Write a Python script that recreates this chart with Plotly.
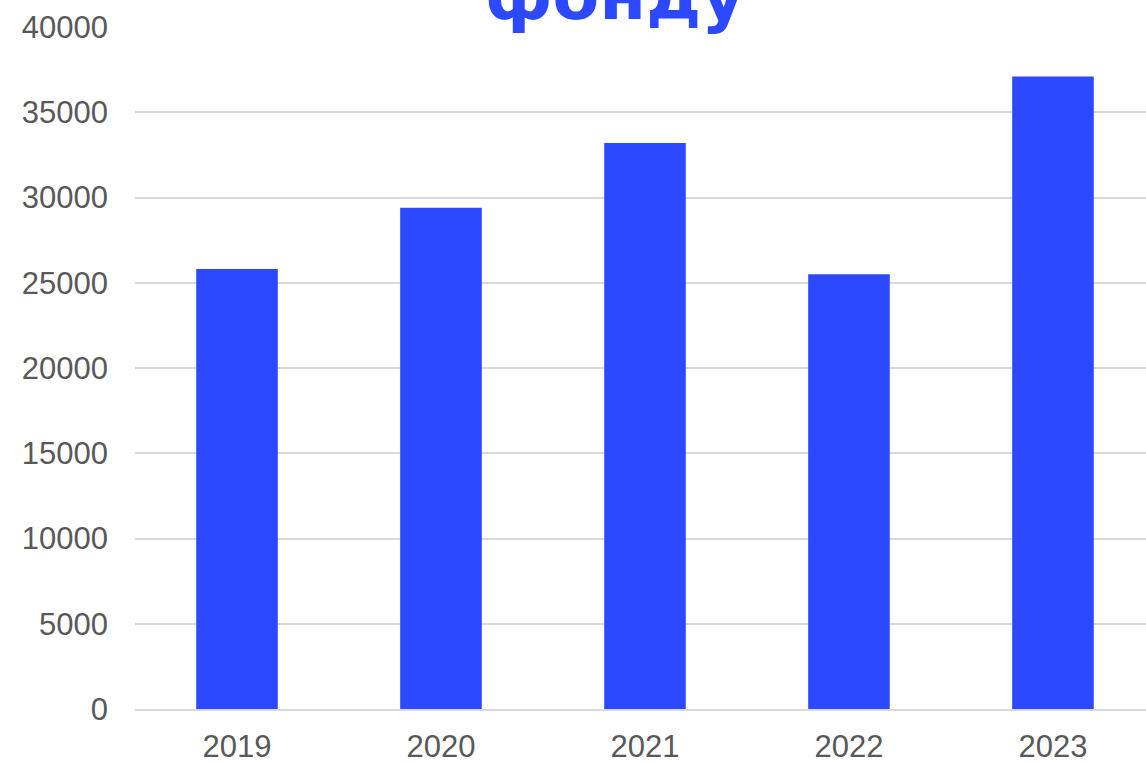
import plotly.graph_objects as go

years = ["2019", "2020", "2021", "2022", "2023"]
values = [25800, 29400, 33200, 25500, 37100]
y_ticks = [0, 5000, 10000, 15000, 20000, 25000, 30000, 35000, 40000]
title_text = "фонду"

BAR_COLOR = "#2C49FF"
GRID_COLOR = "#D9D9D9"
TICK_COLOR = "#595959"

fig = go.Figure(
    go.Bar(
        x=years,
        y=values,
        width=0.4,
        marker=dict(color=BAR_COLOR, line=dict(width=0)),
    )
)

fig.update_layout(
    width=1146,
    height=763,
    margin=dict(l=135, r=0, t=27, b=54),
    paper_bgcolor="white",
    plot_bgcolor="white",
    showlegend=False,
    font=dict(family="Liberation Sans, Arial, sans-serif", color=TICK_COLOR, size=31),
)

fig.update_xaxes(
    type="category",
    range=[-0.5, 4.456],
    showgrid=False,
    showline=True,
    linecolor=GRID_COLOR,
    linewidth=2,
    ticks="",
    ticklabelstandoff=9,
    tickfont=dict(size=31, color=TICK_COLOR),
)

fig.update_yaxes(
    range=[0, 40000],
    tickvals=y_ticks,
    ticktext=[str(v) for v in y_ticks],
    showgrid=True,
    gridcolor=GRID_COLOR,
    gridwidth=2,
    zeroline=False,
    showline=False,
    ticks="",
    ticklabelstandoff=26,
    tickfont=dict(size=31, color=TICK_COLOR),
)

fig.add_annotation(
    text=f"<b>{title_text}</b>",
    xref="paper",
    yref="paper",
    x=0.475,
    y=1.0,
    xanchor="center",
    yanchor="bottom",
    yshift=-10,
    showarrow=False,
    font=dict(family="DejaVu Sans, sans-serif", size=68, color=BAR_COLOR),
)

fig.write_html("out.html")
